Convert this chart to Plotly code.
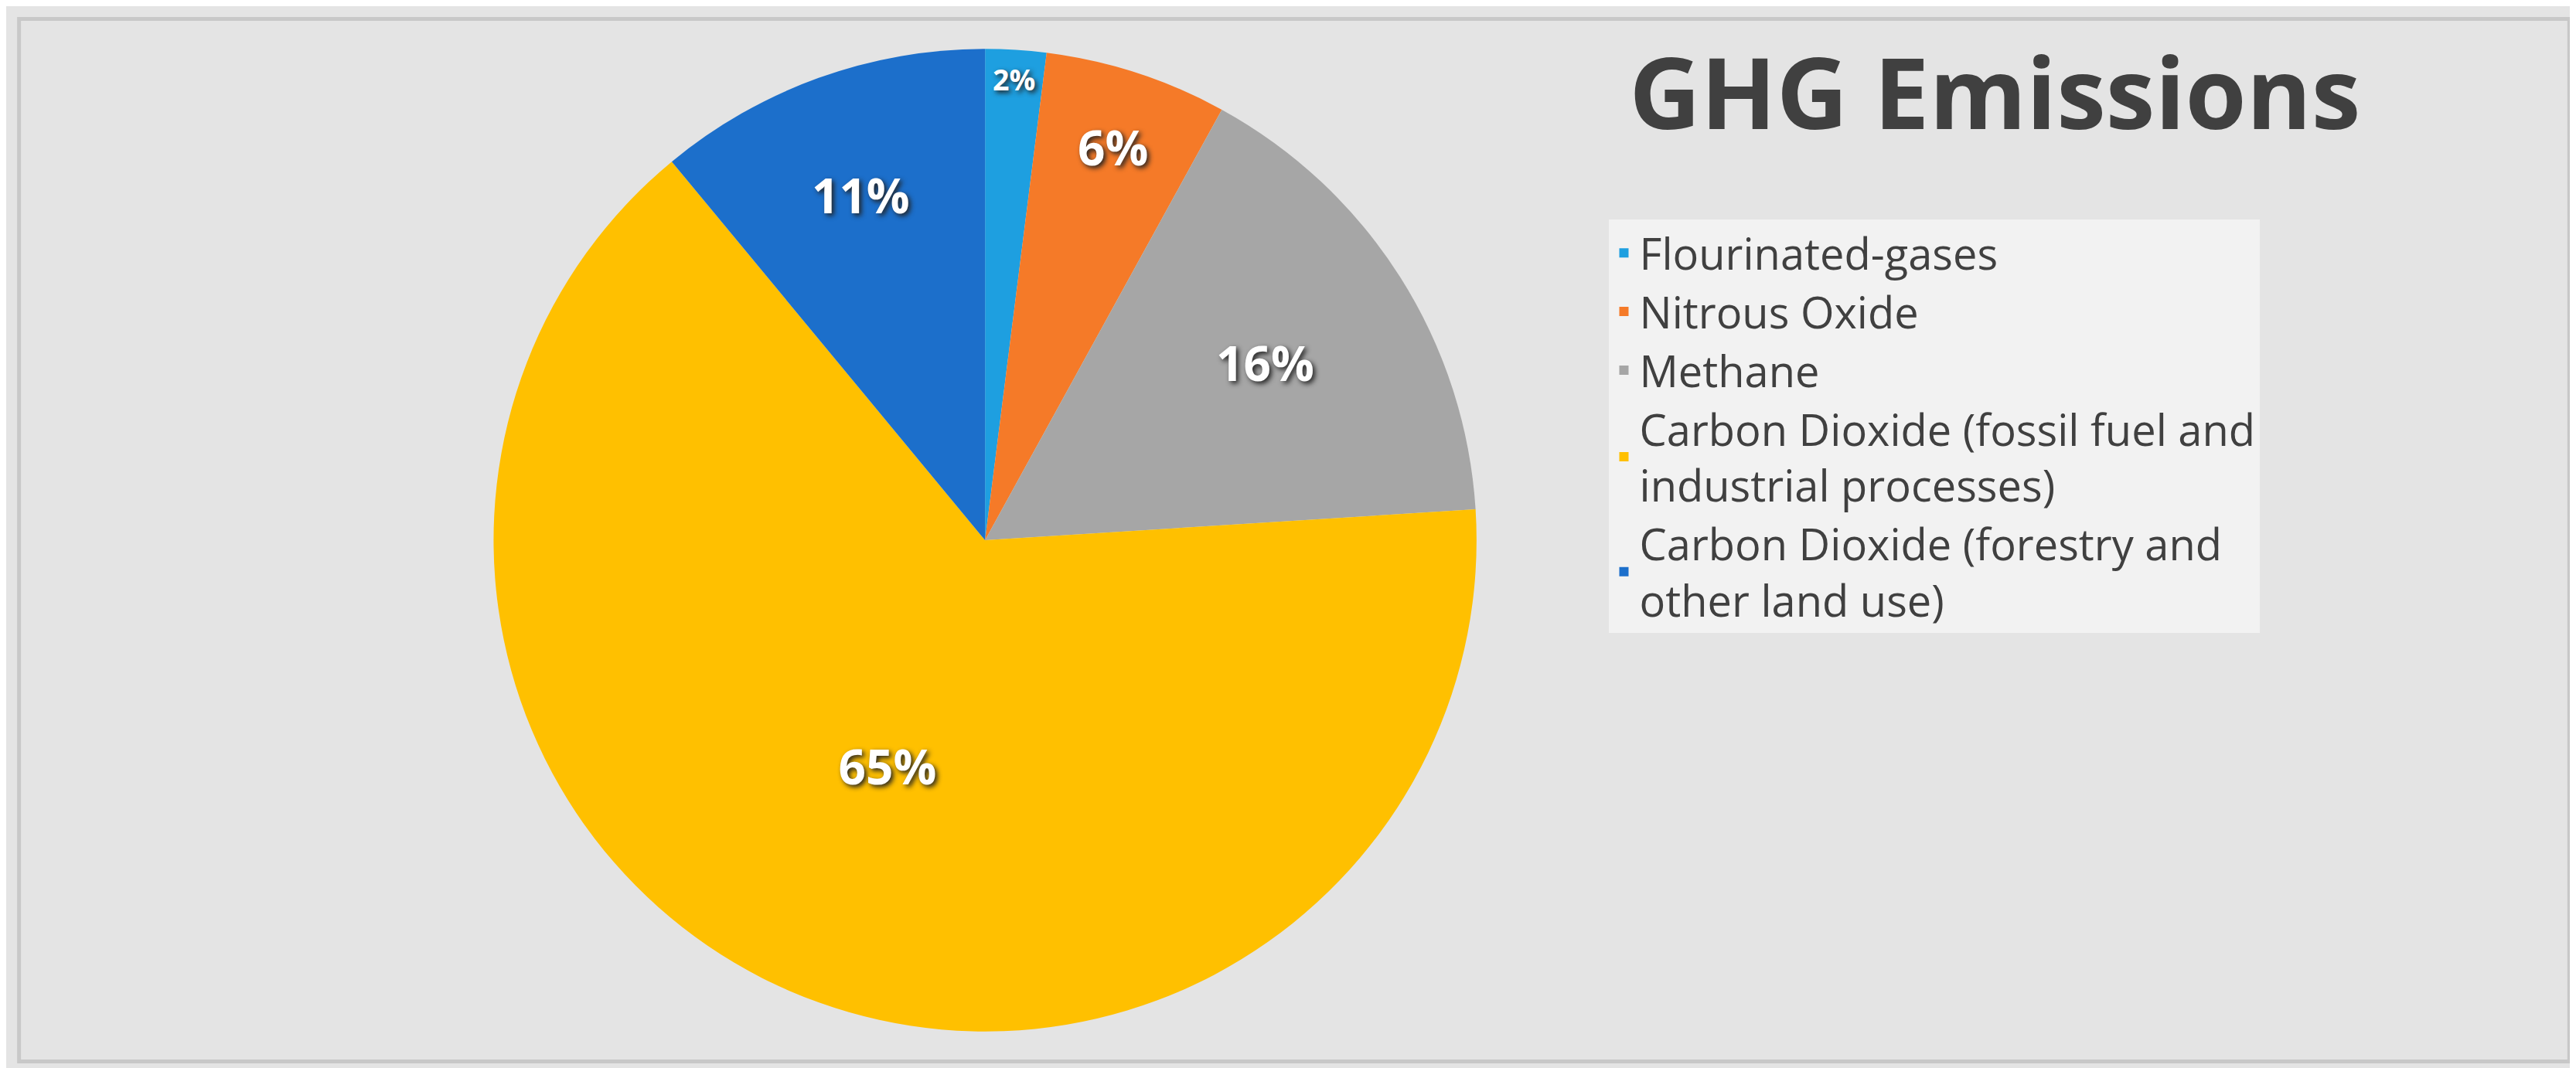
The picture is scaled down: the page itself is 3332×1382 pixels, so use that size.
import plotly.graph_objects as go

labels = [
    "Flourinated-gases",
    "Nitrous Oxide",
    "Methane",
    "Carbon Dioxide (fossil fuel and<br>industrial processes)",
    "Carbon Dioxide (forestry and<br>other land use)",
]
shares = [2, 6, 16, 65, 11]
colors = ["#1E9FE0", "#F57A28", "#A6A6A6", "#FFC000", "#1C6FCB"]

fig = go.Figure(go.Pie(
    labels=labels,
    values=shares,
    sort=False,
    direction="clockwise",
    rotation=0,
    marker=dict(colors=colors, line=dict(color="#ffffff", width=0)),
    textinfo="percent",
    texttemplate="%{percent:.0%}",
    textposition="inside",
    insidetextorientation="horizontal",
    textfont=dict(family="Open Sans", size=62, color="white", weight="bold",
                  shadow="3px 3px 6px #222"),
    domain=dict(x=[0.18, 0.58], y=[0.04, 0.96]),
    hole=0,
))

fig.update_layout(
    width=3332, height=1382,
    paper_bgcolor="#e4e4e4",
    margin=dict(l=0, r=0, t=0, b=0),
    font=dict(family="Open Sans", color="#404040"),
    title=dict(text="<b>GHG Emissions</b>", x=0.63, xanchor="left",
               y=0.95, yanchor="top",
               font=dict(size=128, color="#404040", family="Open Sans")),
    legend=dict(x=0.622, xanchor="left", y=0.8, yanchor="top",
                bgcolor="rgba(245,245,245,0.85)",
                font=dict(size=56, color="#404040"),
                itemsizing="constant"),
    shapes=[dict(type="rect", xref="paper", yref="paper",
                 x0=0.005, x1=0.995, y0=0.012, y1=0.988,
                 line=dict(color="#c8c8c8", width=5),
                 fillcolor="rgba(0,0,0,0)")],
)

fig.write_html("out.html")
